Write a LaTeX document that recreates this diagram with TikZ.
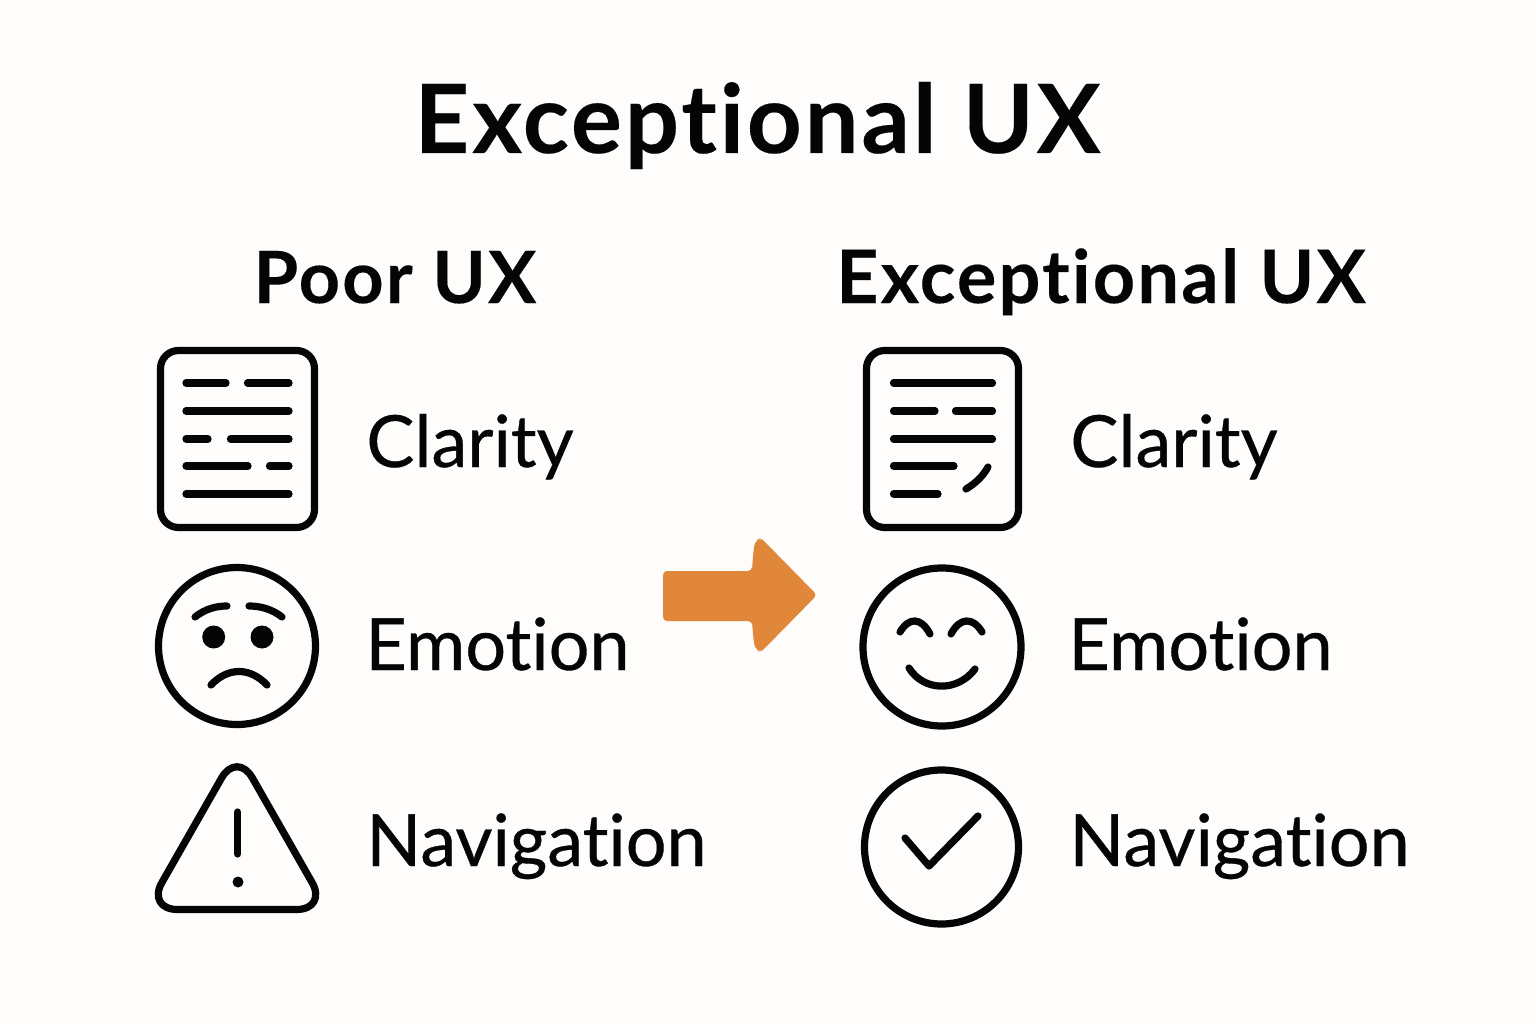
\documentclass[tikz,border=0pt]{standalone}
\usepackage{fontspec}
\setmainfont{Lato}[Ligatures=NoCommon]
\newfontfamily\titlefont{Lato}[Ligatures=NoCommon, LetterSpace=3, BoldFont=Lato Bold, BoldFeatures={FakeBold=.2}]
\newfontfamily\itemfont{Lato}[Ligatures=NoCommon, FakeBold=.5]
\usepackage{xcolor}
\definecolor{paper}{HTML}{FEFDFB}
\definecolor{arroworange}{HTML}{E08739}
\definecolor{inkblack}{HTML}{050505}
\tikzset{iconline/.style={draw=inkblack, line width=4.1pt, line cap=round, line join=round}}
\tikzset{textline/.style={draw=inkblack, line width=4.1pt, line cap=round}}
\tikzset{bigtitle/.style={anchor=base, text=inkblack, font=\fontsize{54.4}{60}\selectfont\titlefont\bfseries}}
\tikzset{headtitle/.style={anchor=base, text=inkblack, font=\fontsize{41}{48}\selectfont\titlefont\bfseries}}
\tikzset{widehead/.style={anchor=base, text=inkblack, font=\fontsize{42}{48}\selectfont\titlefont\bfseries}}
\tikzset{itemtext/.style={anchor=base west, inner sep=0pt, text=inkblack, font=\fontsize{41}{48}\selectfont\itemfont}}
\begin{document}
\begin{tikzpicture}[x=.02cm, y=-.02cm]

\fill[paper] (0, 0) rectangle (1536, 1024);
\useasboundingbox (0, 0) rectangle (1536, 1024);

\node [bigtitle] (maintitle) at (757.5, 153) {Exceptional UX};
\node [headtitle] (poorhead) at (395, 303) {Poor UX};
\node [widehead] (goodhead) at (1101, 303) {Exceptional UX};

\node [itemtext] (poorclarity) at (366, 467) {Clarity};
\node [itemtext] (pooremotion) at (365, 670) {Emotion};
\node [itemtext] (poornav) at (366, 866) {Navigation};
\node [itemtext] (goodclarity) at (1070, 467) {Clarity};
\node [itemtext] (goodemotion) at (1068, 670) {Emotion};
\node [itemtext] (goodnav) at (1069, 866) {Navigation};

\draw[iconline, rounded corners=.36cm] (160.5, 350.5) rectangle (314.5, 527.5);
\draw[textline] (186, 383) -- (226, 383);
\draw[textline] (247.5, 383) -- (289, 383);
\draw[textline] (186, 411) -- (289, 411);
\draw[textline] (186, 439) -- (208, 439);
\draw[textline] (230.5, 439) -- (289, 439);
\draw[textline] (186, 466) -- (248, 466);
\draw[textline] (269.5, 466) -- (289, 466);
\draw[textline] (186, 494) -- (289, 494);

\draw[iconline] (237, 646) circle [radius=78.5];
\fill[inkblack] (213.7, 637) circle [radius=11.5];
\fill[inkblack] (262, 637) circle [radius=11.5];
\draw[iconline] (195, 617) .. controls (205, 609) and (216, 606) .. (227, 606);
\draw[iconline] (282, 617) .. controls (272, 609) and (260, 606) .. (249, 606);
\draw[iconline] (211, 685) .. controls (228, 667) and (250, 667) .. (267, 685);

\draw[iconline, rounded corners=.62cm] (237, 751) -- (327.5, 909.5) -- (146.5, 909.5) -- cycle;
\draw[iconline] (237.7, 812) -- (237.7, 854);
\fill[inkblack] (238, 882) circle [radius=5.5];

\draw[iconline, rounded corners=.36cm] (866.5, 350.5) rectangle (1018.5, 527.5);
\draw[textline] (893.5, 383) -- (992.5, 383);
\draw[textline] (893.5, 411) -- (935, 411);
\draw[textline] (955.5, 411) -- (992.5, 411);
\draw[textline] (893.5, 439) -- (992.5, 439);
\draw[textline] (893.5, 466) -- (954, 466);
\draw[textline] (893.5, 494) -- (938, 494);
\draw[textline] (966, 489) .. controls (976, 483) and (983, 476) .. (988, 467);

\draw[iconline] (942, 647) circle [radius=79];
\draw[iconline] (900, 632) .. controls (909, 617) and (921, 617) .. (930, 634);
\draw[iconline] (951, 634) .. controls (960, 617) and (973, 617) .. (982, 632);
\draw[iconline] (909, 668) .. controls (924, 692) and (958, 692) .. (975, 669);

\draw[iconline] (941.5, 847) circle [radius=77];
\draw[iconline] (905, 838) -- (929, 866) -- (978, 816);

\fill[arroworange, rounded corners=.08cm] (663, 571) -- (752, 571) -- (752, 571) .. controls (753, 555) and (754, 545) .. (757, 540)
  -- (760, 538) -- (763, 540) -- (817, 595) -- (763, 650) -- (760, 652) -- (757, 650) .. controls (754, 645) and (753, 635) .. (752, 621)
  -- (663, 621) -- cycle;

\end{tikzpicture}
\end{document}
